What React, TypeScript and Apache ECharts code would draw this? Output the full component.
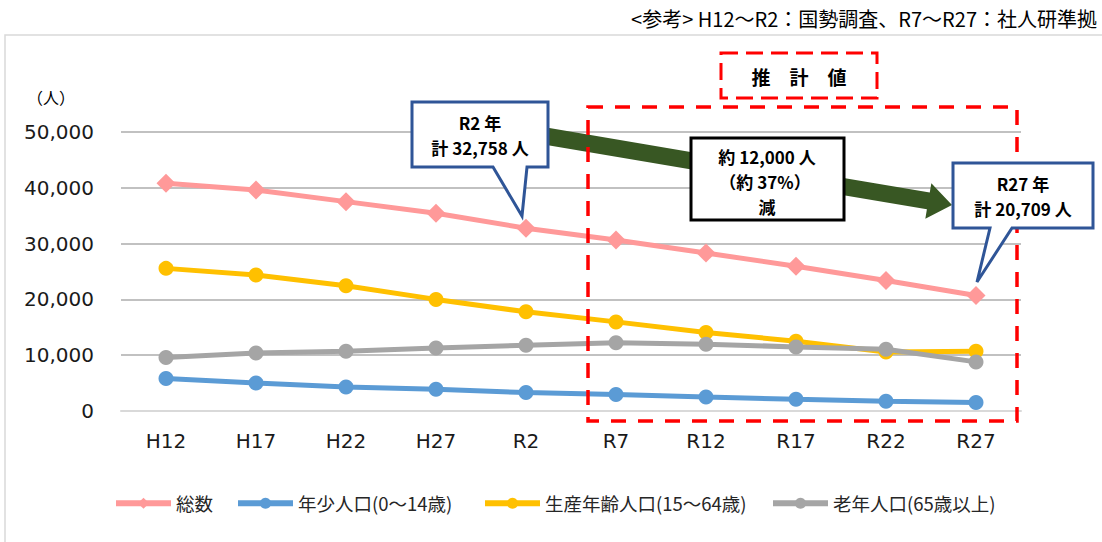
import React, { useEffect, useRef } from "react";
import * as echarts from "echarts";

const categories = ["H12", "H17", "H22", "H27", "R2", "R7", "R12", "R17", "R22", "R27"];
const total = [40830, 39620, 37520, 35440, 32758, 30650, 28300, 25950, 23400, 20709];
const young = [5820, 5030, 4310, 3900, 3300, 2940, 2510, 2100, 1740, 1510];
const working = [25560, 24360, 22440, 20000, 17770, 15970, 14070, 12510, 10590, 10720];
const elderly = [9590, 10410, 10720, 11310, 11800, 12210, 11970, 11490, 11080, 8800];
const yTicks = [0, 10000, 20000, 30000, 40000, 50000];

const seriesNames = ["総数", "年少人口(0～14歳)", "生産年齢人口(15～64歳)", "老年人口(65歳以上)"];
const seriesColors = ["#ff9999", "#5b9bd5", "#ffc000", "#a5a5a5"];
const legendLefts = [108, 230, 477, 765];

const JP = "'Noto Sans CJK JP', 'Noto Sans', sans-serif";
const NUM = "'DejaVu Sans', Verdana, sans-serif";

function arrowPoints(sx: number, sy: number, tx: number, ty: number, hw: number, headLen: number, headHw: number) {
  const dx = tx - sx, dy = ty - sy;
  const len = Math.sqrt(dx * dx + dy * dy);
  const ux = dx / len, uy = dy / len;
  const nx = -uy, ny = ux;
  const hx = tx - ux * headLen, hy = ty - uy * headLen;
  return [
    [sx + nx * hw, sy + ny * hw],
    [hx + nx * hw, hy + ny * hw],
    [hx + nx * headHw, hy + ny * headHw],
    [tx, ty],
    [hx - nx * headHw, hy - ny * headHw],
    [hx - nx * hw, hy - ny * hw],
    [sx - nx * hw, sy - ny * hw],
  ];
}

function txt(text: string, x: number, y: number, size: number, bold = true, align = "center") {
  return {
    type: "text",
    z: 120,
    style: {
      text,
      x,
      y,
      fill: "#000",
      fontSize: size,
      fontWeight: bold ? "bold" : "normal",
      fontFamily: JP,
      align,
      verticalAlign: "middle",
    },
  };
}

export default function App() {
  const ref = useRef<HTMLDivElement>(null);
  useEffect(() => {
    if (!ref.current) return;
    const chart = echarts.init(ref.current, null, { renderer: "svg" });
    const dataSets = [total, young, working, elderly];
    const series = dataSets.map((d, i) => ({
      name: seriesNames[i],
      type: "line",
      data: d,
      symbol: i === 0 ? "diamond" : "circle",
      symbolSize: i === 0 ? 19 : 15,
      lineStyle: { width: 5, color: seriesColors[i] },
      itemStyle: { color: seriesColors[i] },
      z: 3 + i,
    }));
    const legends = seriesNames.map((n, i) => ({
      data: [n],
      left: legendLefts[i],
      top: 489,
      itemWidth: 55,
      itemHeight: 14,
      itemGap: 0,
      selectedMode: false,
      lineStyle: { width: 6 },
      textStyle: { fontSize: 18.5, fontFamily: JP, color: "#262626" },
    }));
    const arrow = arrowPoints(545, 136, 952, 205, 8.5, 24, 18);
    chart.setOption({
      animation: false,
      backgroundColor: "#ffffff",
      grid: { left: 121, right: 81, top: 132, bottom: 131 },
      legend: legends,
      xAxis: {
        type: "category",
        data: categories,
        boundaryGap: true,
        axisLine: { show: true, lineStyle: { color: "#d9d9d9", width: 2 } },
        axisTick: { show: false },
        axisLabel: { fontSize: 20, fontFamily: NUM, color: "#1a1a1a", margin: 20 },
      },
      yAxis: {
        type: "value",
        min: yTicks[0],
        max: yTicks[yTicks.length - 1],
        interval: 10000,
        axisLine: { show: false },
        axisTick: { show: false },
        axisLabel: {
          fontSize: 20,
          fontFamily: NUM,
          color: "#1a1a1a",
          margin: 27,
          formatter: (v: number) => v.toLocaleString("en-US"),
        },
        splitLine: { lineStyle: { color: "#adadad", width: 1.5 } },
      },
      series,
      graphic: [
        {
          type: "rect",
          z: 1,
          shape: { x: 5, y: 35, width: 1200, height: 600 },
          style: { fill: "none", stroke: "#d9d9d9", lineWidth: 1.5 },
        },
        txt("<参考> H12～R2：国勢調査、R7～R27：社人研準拠", 1097, 18, 20, false, "right"),
        txt("（人）", 51, 97, 16, false, "center"),
        {
          type: "polygon",
          z: 105,
          shape: { points: arrow },
          style: { fill: "#385723", stroke: "none" },
        },
        {
          type: "rect",
          z: 110,
          shape: { x: 588, y: 107, width: 429, height: 314 },
          style: { fill: "none", stroke: "#ff0000", lineWidth: 3.5, lineDash: [15, 12] },
        },
        {
          type: "rect",
          z: 110,
          shape: { x: 721, y: 53, width: 156, height: 45 },
          style: { fill: "none", stroke: "#ff0000", lineWidth: 3, lineDash: [17, 8] },
        },
        txt("推　計　値", 799, 76, 19, true),
        {
          type: "rect",
          z: 112,
          shape: { x: 691, y: 138, width: 153, height: 82 },
          style: { fill: "#ffffff", stroke: "#000000", lineWidth: 3 },
        },
        txt("約 12,000 人", 767, 156, 17),
        txt("（約 37%）", 765, 181, 17),
        txt("減", 767, 206, 17),
        {
          type: "polygon",
          z: 115,
          shape: {
            points: [
              [412, 102], [548, 102], [548, 167], [527, 167], [522, 216], [493, 167], [412, 167],
            ],
          },
          style: { fill: "#ffffff", stroke: "#2f5597", lineWidth: 3 },
        },
        txt("R2 年", 480, 122, 17),
        txt("計 32,758 人", 480, 147, 17),
        {
          type: "polygon",
          z: 115,
          shape: {
            points: [
              [953, 163], [1093, 163], [1093, 228], [1012, 228], [977, 282], [990, 228], [953, 228],
            ],
          },
          style: { fill: "#ffffff", stroke: "#2f5597", lineWidth: 3 },
        },
        txt("R27 年", 1023, 183, 17),
        txt("計 20,709 人", 1023, 208, 17),
      ],
    });
    return () => chart.dispose();
  }, []);
  return (
    <div
      ref={ref}
      style={{ position: "absolute", left: 0, top: 0, width: 1102, height: 542 }}
    />
  );
}
